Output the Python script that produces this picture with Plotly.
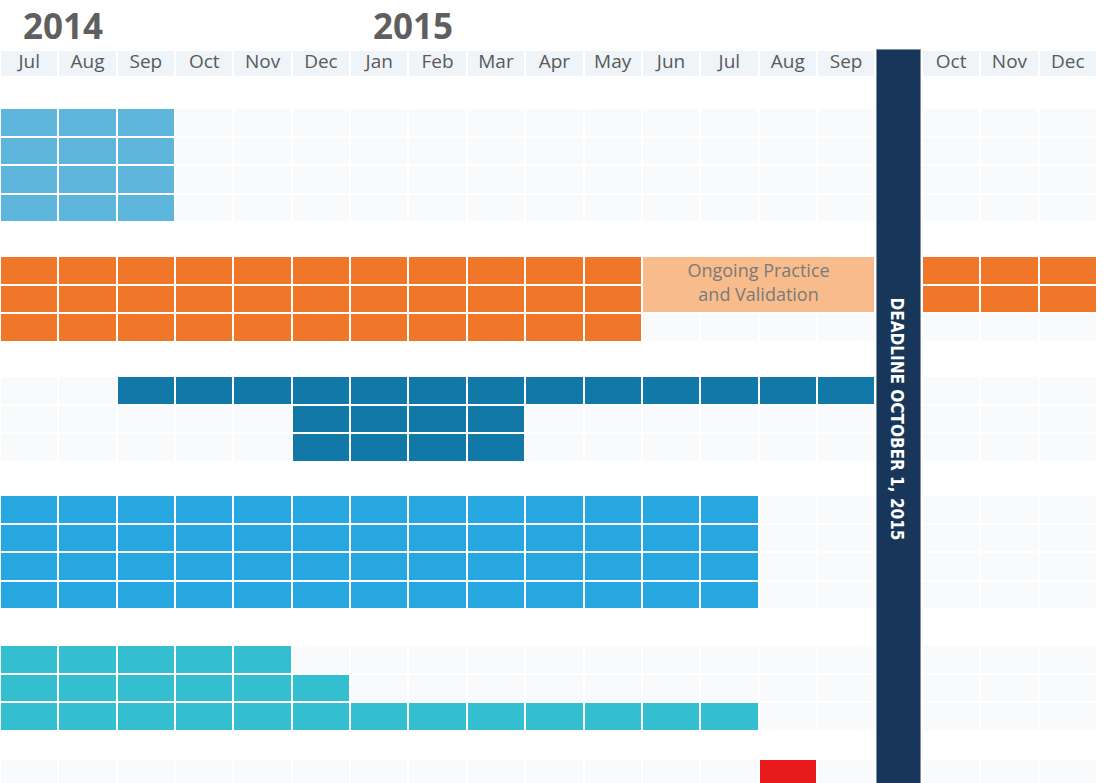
import plotly.graph_objects as go

# ---------------- data ----------------
months = ["Jul", "Aug", "Sep", "Oct", "Nov", "Dec", "Jan", "Feb", "Mar",
          "Apr", "May", "Jun", "Jul", "Aug", "Sep", "Oct", "Nov", "Dec"]
years = ["2014", "2015"]
year_start_month = [0, 6]

deadline_after_month = 14          # deadline slot sits after Sep 2015
deadline_label = "DEADLINE OCTOBER 1, 2015"

# filled spans per row (inclusive month indices), one list per group
group_rows = [
    [[(0, 2)], [(0, 2)], [(0, 2)], [(0, 2)]],
    [[(0, 10), (15, 17)], [(0, 10), (15, 17)], [(0, 10)]],
    [[(2, 14)], [(5, 8)], [(5, 8)]],
    [[(0, 12)], [(0, 12)], [(0, 12)], [(0, 12)]],
    [[(0, 4)], [(0, 5)], [(0, 12)]],
    [[(13, 13)]],
]
group_colors = ["#5DB5DC", "#F07629", "#1278A8", "#27A7E0", "#33BFCF", "#E8191A"]

# merged note block (group, first row, last row, first month, last month)
note_text = "Ongoing Practice<br>and Validation"
note_span = (1, 0, 1, 11, 14)
note_color = "#F8BC8C"

# ---------------- layout constants ----------------
W, H = 1105, 783
SLOT = 0.8                      # width of the deadline slot in month units
HEADER_TOP, HEADER_H = 50, 27
FIRST_TOP = 108
PITCH = 28.5
GROUP_GAPS = [34, 34.5, 33.5, 36, 28.5]
EMPTY = "#F8FAFC"
HEADER_BG = "#EEF4F8"


def xpos(m):
    return m + (SLOT if m > deadline_after_month else 0)


# row tops
row_tops = []
top = FIRST_TOP
for g, rows in enumerate(group_rows):
    tops = []
    for r in range(len(rows)):
        tops.append(top + r * PITCH)
    row_tops.append(tops)
    top += len(rows) * PITCH + (GROUP_GAPS[g] if g < len(GROUP_GAPS) else 0)

fig = go.Figure()

bar_common = dict(orientation="h", hoverinfo="skip", showlegend=False)

# header cells
fig.add_trace(go.Bar(
    y=[HEADER_TOP + HEADER_H / 2] * len(months),
    x=[1] * len(months),
    base=[xpos(i) for i in range(len(months))],
    width=HEADER_H,
    marker=dict(color=HEADER_BG, line=dict(color="white", width=2)),
    **bar_common))
fig.add_trace(go.Scatter(
    x=[xpos(i) + 0.5 for i in range(len(months))],
    y=[HEADER_TOP + HEADER_H / 2] * len(months),
    mode="text", text=months,
    textfont=dict(family="Open Sans", size=19, color="#5A5A5A"),
    hoverinfo="skip", showlegend=False))

# grid cells
note_g, note_r0, note_r1, note_m0, note_m1 = note_span
for g, rows in enumerate(group_rows):
    ey, ex, eb, fy, fx, fb = [], [], [], [], [], []
    for r, spans in enumerate(rows):
        yc = row_tops[g][r] + PITCH / 2
        filled = set()
        for a, b in spans:
            filled.update(range(a, b + 1))
        for m in range(len(months)):
            if g == note_g and note_r0 <= r <= note_r1 and note_m0 <= m <= note_m1:
                continue
            if m in filled:
                fy.append(yc); fx.append(1); fb.append(xpos(m))
            else:
                ey.append(yc); ex.append(1); eb.append(xpos(m))
    fig.add_trace(go.Bar(y=ey, x=ex, base=eb, width=PITCH,
                         marker=dict(color=EMPTY, line=dict(color="white", width=2)),
                         **bar_common))
    fig.add_trace(go.Bar(y=fy, x=fx, base=fb, width=PITCH,
                         marker=dict(color=group_colors[g], line=dict(color="white", width=2)),
                         **bar_common))

# note block
n_top = row_tops[note_g][note_r0]
n_bot = row_tops[note_g][note_r1] + PITCH
fig.add_trace(go.Bar(
    y=[(n_top + n_bot) / 2], x=[xpos(note_m1) + 1 - xpos(note_m0)], base=[xpos(note_m0)],
    width=n_bot - n_top,
    marker=dict(color=note_color, line=dict(color="white", width=2)),
    **bar_common))
fig.add_trace(go.Scatter(
    x=[(xpos(note_m0) + xpos(note_m1) + 1) / 2], y=[(n_top + n_bot) / 2],
    mode="text", text=[note_text],
    textfont=dict(family="Open Sans", size=18, color="#7A7A7A"),
    hoverinfo="skip", showlegend=False))

# deadline column
d0 = deadline_after_month + 1
fig.add_trace(go.Bar(
    y=[(HEADER_TOP + H + 20) / 2], x=[SLOT - 0.05], base=[d0 + 0.03],
    width=H + 20 - HEADER_TOP,
    marker=dict(color="#17365A", line=dict(color="#7D8FA5", width=1)),
    **bar_common))
fig.add_annotation(
    x=d0 + SLOT / 2 - 0.02, y=419, text="<b>" + deadline_label + "</b>",
    textangle=90, showarrow=False,
    font=dict(family="DejaVu Sans Condensed, DejaVu Sans", size=17, color="white"))

# year labels
for yr, m in zip(years, year_start_month):
    fig.add_annotation(
        x=xpos(m) + 0.36, y=25, text="<b>" + yr + "</b>", showarrow=False,
        xanchor="left", yanchor="middle",
        font=dict(family="Open Sans", size=35, color="#5F5F5F"))

fig.update_layout(
    width=W, height=H,
    margin=dict(l=0, r=8, t=0, b=0),
    paper_bgcolor="white", plot_bgcolor="white",
    barmode="overlay", bargap=0,
    xaxis=dict(range=[0, len(months) + SLOT], visible=False, fixedrange=True),
    yaxis=dict(range=[H, 0], visible=False, fixedrange=True),
    hovermode=False,
)

fig.write_html("out.html", config={"displayModeBar": False},
               post_script="document.body.style.margin='0';")
